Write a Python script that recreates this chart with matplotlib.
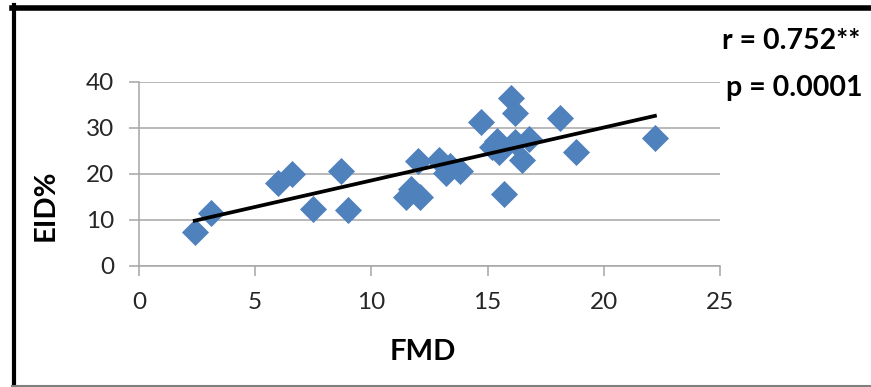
import numpy as np
import matplotlib
matplotlib.use("Agg")
import matplotlib.pyplot as plt
from matplotlib.lines import Line2D

plt.rcParams['font.family'] = ['Lato', 'DejaVu Sans']

# values
fmd = [2.4, 3.1, 6.0, 6.6, 7.5, 8.7, 9.0, 11.5, 11.7, 12.0, 12.1, 12.9, 13.2, 13.4,
       13.8, 14.7, 15.2, 15.4, 15.5, 15.7, 16.0, 16.2, 16.2, 16.5, 16.8, 18.1, 18.8, 22.2]
eid = [7.3, 11.5, 18.1, 19.9, 12.4, 20.6, 12.1, 14.9, 16.8, 22.8, 15.0, 23.0, 20.3, 21.8,
       20.6, 31.2, 25.9, 27.2, 24.8, 15.7, 36.5, 33.3, 27.0, 23.1, 27.6, 32.2, 24.8, 27.8]
x_ticks = [0, 5, 10, 15, 20, 25]
y_ticks = [0, 10, 20, 30, 40]
stats_text = ["r = 0.752**", "p = 0.0001"]

fig = plt.figure(figsize=(8.71, 3.87), dpi=100)
ax = fig.add_axes([139 / 871, 1 - 266 / 387, (720 - 139) / 871, (266 - 82) / 387])

grid_col = '#a6a6a6'
ax.set_xlim(0, 25)
ax.set_ylim(0, 40)
ax.set_xticks(x_ticks)
ax.set_yticks(y_ticks)
ax.yaxis.grid(True, color=grid_col, linewidth=1.1)
ax.set_axisbelow(True)
for s in ['top', 'right']:
    ax.spines[s].set_visible(False)
for s in ['left', 'bottom']:
    ax.spines[s].set_color(grid_col)
    ax.spines[s].set_linewidth(1.1)
ax.tick_params(axis='both', colors=grid_col, labelcolor='#262626', labelsize=17.5,
               length=7, width=1.1)
ax.tick_params(axis='x', pad=12)
ax.tick_params(axis='y', pad=11)

ax.scatter(fmd, eid, marker='D', s=190, color='#4f81bd', zorder=3, linewidths=0)

# linear trend line
slope, intercept = np.polyfit(fmd, eid, 1)
xs = np.array([min(fmd), max(fmd)])
ax.plot(xs, slope * xs + intercept, color='black', linewidth=2.7, zorder=4)

fig.text(423 / 871, 1 - 352 / 387, "FMD", fontsize=21, fontweight='bold',
         ha='center', va='center')
fig.text(46 / 871, 1 - 205 / 387, "EID%", fontsize=21, fontweight='bold',
         ha='center', va='center', rotation=90)
fig.text(722 / 871, 1 - 41 / 387, stats_text[0], fontsize=20.5, fontweight='bold',
         ha='left', va='center')
fig.text(726 / 871, 1 - 88 / 387, stats_text[1], fontsize=20.5, fontweight='bold',
         ha='left', va='center')

# frame around the picture
fig.add_artist(Line2D([13.5 / 871, 13.5 / 871], [0, 1 - 5 / 387], color='black',
                      linewidth=3, transform=fig.transFigure))
fig.add_artist(Line2D([12 / 871, 1], [1 - 7.5 / 387, 1 - 7.5 / 387], color='black',
                      linewidth=4, transform=fig.transFigure))
fig.add_artist(Line2D([12 / 871, 1], [1 - 385.5 / 387, 1 - 385.5 / 387], color='#7f7f7f',
                      linewidth=1.5, transform=fig.transFigure))

fig.savefig("out.png", dpi=100)
